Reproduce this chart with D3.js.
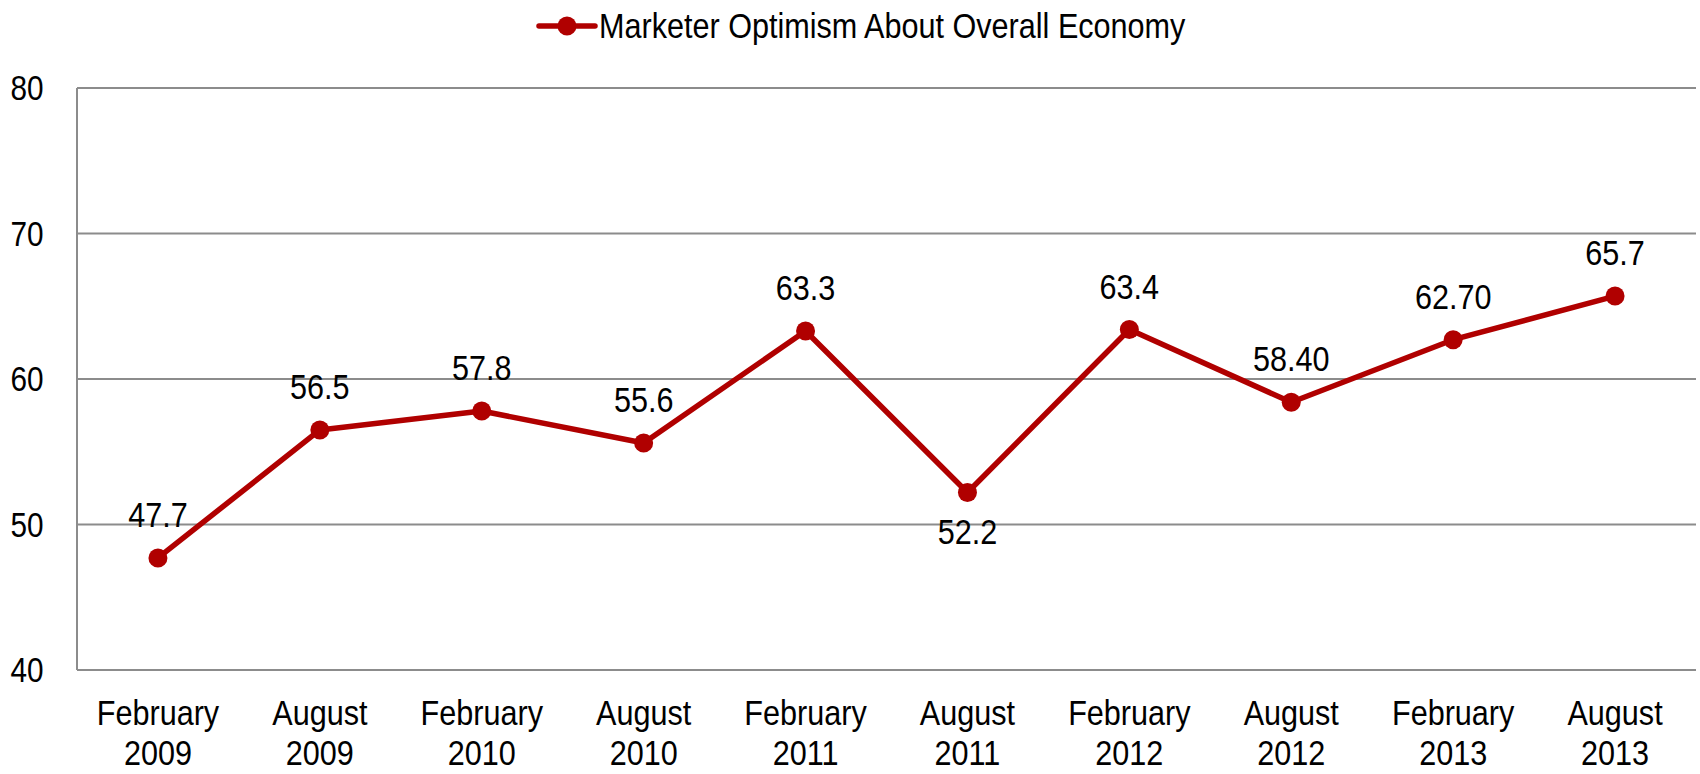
<!DOCTYPE html>
<html>
<head>
<meta charset="utf-8">
<script src="https://cdn.jsdelivr.net/npm/d3@7"></script>
<style>
  body { margin: 0; background: #fff; }
  text { font-family: "Liberation Sans Narrow", "Arial Narrow", "Liberation Sans", Arial, sans-serif; fill: #000; }
</style>
</head>
<body>
<div id="chart"></div>
<script>
const periods = [
    ["February", "2009"], ["August", "2009"], ["February", "2010"], ["August", "2010"],
    ["February", "2011"], ["August", "2011"], ["February", "2012"], ["August", "2012"],
    ["February", "2013"], ["August", "2013"]
];
const optimism = [47.7, 56.5, 57.8, 55.6, 63.3, 52.2, 63.4, 58.4, 62.7, 65.7];
const valueLabels = ["47.7", "56.5", "57.8", "55.6", "63.3", "52.2", "63.4", "58.40", "62.70", "65.7"];
const labelBelow = [false, false, false, false, false, true, false, false, false, false];
const yTicks = [40, 50, 60, 70, 80];
const seriesName = "Marketer Optimism About Overall Economy";

const width = 1700,
    height = 774,
    margin = {top: 88, right: 4, bottom: 104, left: 77},
    red = "#b00000",
    squeeze = 0.85; // no narrow font installed, so squeeze the sans horizontally

const svg = d3.select("#chart")
    .append("svg")
    .attr("width", width)
    .attr("height", height);

const x = d3.scaleBand()
    .domain(d3.range(periods.length))
    .range([margin.left, width - margin.right]);

const y = d3.scaleLinear()
    .domain([40, 80])
    .range([height - margin.bottom, margin.top]);

const cx = i => x(i) + x.bandwidth() / 2;
const place = (px, py) => `translate(${px},${py}) scale(${squeeze},1)`;

// gridlines
svg.append("g")
    .selectAll("line")
    .data(yTicks)
    .enter()
    .append("line")
    .attr("x1", margin.left)
    .attr("x2", width - margin.right)
    .attr("y1", d => y(d))
    .attr("y2", d => y(d))
    .attr("stroke", "#8c8c8c")
    .attr("stroke-width", 2);

// y axis line
svg.append("line")
    .attr("x1", margin.left)
    .attr("x2", margin.left)
    .attr("y1", y(80))
    .attr("y2", y(40))
    .attr("stroke", "#8c8c8c")
    .attr("stroke-width", 2);

// y tick labels
svg.append("g")
    .selectAll("text")
    .data(yTicks)
    .enter()
    .append("text")
    .attr("transform", d => place(27, y(d) + 12))
    .attr("text-anchor", "middle")
    .style("font-size", "35px")
    .text(d => d);

// x labels
const xl = svg.append("g")
    .selectAll("text")
    .data(periods)
    .enter()
    .append("text")
    .attr("transform", (d, i) => place(cx(i), 725))
    .attr("text-anchor", "middle")
    .style("font-size", "36px");
xl.append("tspan").text(d => d[0]);
xl.append("tspan")
    .attr("x", 0)
    .attr("dy", 40)
    .text(d => d[1]);

// line
const line = d3.line()
    .x((d, i) => cx(i))
    .y(d => y(d));

svg.append("path")
    .datum(optimism)
    .attr("d", line)
    .attr("fill", "none")
    .attr("stroke", red)
    .attr("stroke-width", 5.5)
    .attr("stroke-linejoin", "round");

svg.append("g")
    .selectAll("circle")
    .data(optimism)
    .enter()
    .append("circle")
    .attr("cx", (d, i) => cx(i))
    .attr("cy", d => y(d))
    .attr("r", 9.5)
    .attr("fill", red);

// value labels
svg.append("g")
    .selectAll("text")
    .data(optimism)
    .enter()
    .append("text")
    .attr("transform", (d, i) => place(cx(i), labelBelow[i] ? y(d) + 52 : y(d) - 31))
    .attr("text-anchor", "middle")
    .style("font-size", "36px")
    .text((d, i) => valueLabels[i]);

// legend
const legend = svg.append("g").attr("transform", "translate(539, 26)");
legend.append("line")
    .attr("x1", 0).attr("x2", 56)
    .attr("stroke", red)
    .attr("stroke-width", 5.5)
    .attr("stroke-linecap", "round");
legend.append("circle")
    .attr("cx", 28)
    .attr("r", 9.5)
    .attr("fill", red);
legend.append("text")
    .attr("transform", place(60, 12))
    .style("font-size", "36px")
    .text(seriesName);
</script>
</body>
</html>
